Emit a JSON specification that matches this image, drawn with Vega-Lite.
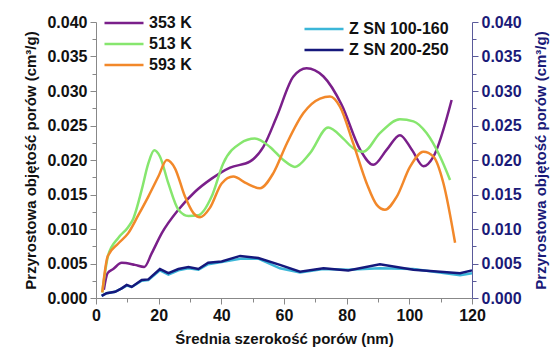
{
  "$schema": "https://vega.github.io/schema/vega-lite/v6.json",
  "width": 376,
  "height": 276,
  "autosize": {"type": "none"},
  "padding": {"left": 96, "top": 22, "right": 80, "bottom": 52},
  "config": {
    "font": "Liberation Sans",
    "view": {"stroke": null},
    "axis": {"grid": false, "labelFont": "Liberation Sans", "titleFont": "Liberation Sans", "labelFontWeight": "bold", "titleFontWeight": "bold", "labelFontSize": 16, "titleFontSize": 15},
    "legend": {"padding": 0, "labelFont": "Liberation Sans", "labelFontWeight": "bold", "labelFontSize": 16, "labelColor": "#111"}
  },
  "datasets": {
    "temps": [
      {"s": "353 K", "x": 2.5, "y": 0.0012}, {"s": "353 K", "x": 3.7, "y": 0.0036}, {"s": "353 K", "x": 5.5, "y": 0.0042},
      {"s": "353 K", "x": 8.2, "y": 0.0051}, {"s": "353 K", "x": 12.4, "y": 0.0048}, {"s": "353 K", "x": 15.4, "y": 0.0045},
      {"s": "353 K", "x": 17.8, "y": 0.0065}, {"s": "353 K", "x": 21, "y": 0.0094}, {"s": "353 K", "x": 26.3, "y": 0.0128},
      {"s": "353 K", "x": 31.6, "y": 0.0154}, {"s": "353 K", "x": 36.9, "y": 0.0173}, {"s": "353 K", "x": 42.8, "y": 0.0189},
      {"s": "353 K", "x": 49.2, "y": 0.0198}, {"s": "353 K", "x": 53.4, "y": 0.0219}, {"s": "353 K", "x": 57.7, "y": 0.0263},
      {"s": "353 K", "x": 63, "y": 0.0321}, {"s": "353 K", "x": 67.2, "y": 0.0333}, {"s": "353 K", "x": 72.6, "y": 0.0321},
      {"s": "353 K", "x": 78.4, "y": 0.028}, {"s": "353 K", "x": 84.3, "y": 0.0215}, {"s": "353 K", "x": 88.5, "y": 0.0193},
      {"s": "353 K", "x": 92.8, "y": 0.0215}, {"s": "353 K", "x": 97, "y": 0.0236}, {"s": "353 K", "x": 100.8, "y": 0.0215},
      {"s": "353 K", "x": 104.5, "y": 0.0191}, {"s": "353 K", "x": 107.7, "y": 0.0205}, {"s": "353 K", "x": 113.5, "y": 0.0287},
      {"s": "513 K", "x": 2, "y": 0.0008}, {"s": "513 K", "x": 3.9, "y": 0.0062}, {"s": "513 K", "x": 7.1, "y": 0.0087},
      {"s": "513 K", "x": 10.3, "y": 0.0103}, {"s": "513 K", "x": 11.9, "y": 0.0115}, {"s": "513 K", "x": 14.6, "y": 0.0157},
      {"s": "513 K", "x": 16.7, "y": 0.0195}, {"s": "513 K", "x": 18.6, "y": 0.0214}, {"s": "513 K", "x": 20.4, "y": 0.0205},
      {"s": "513 K", "x": 23.1, "y": 0.0166}, {"s": "513 K", "x": 26.3, "y": 0.0128}, {"s": "513 K", "x": 29.5, "y": 0.0119},
      {"s": "513 K", "x": 32.7, "y": 0.012}, {"s": "513 K", "x": 36.9, "y": 0.0147}, {"s": "513 K", "x": 40.6, "y": 0.0195},
      {"s": "513 K", "x": 46, "y": 0.0224}, {"s": "513 K", "x": 50.7, "y": 0.0231}, {"s": "513 K", "x": 55.5, "y": 0.0219},
      {"s": "513 K", "x": 59.8, "y": 0.02}, {"s": "513 K", "x": 63.5, "y": 0.019}, {"s": "513 K", "x": 68.3, "y": 0.021},
      {"s": "513 K", "x": 74.1, "y": 0.0247}, {"s": "513 K", "x": 78.9, "y": 0.0231}, {"s": "513 K", "x": 82.1, "y": 0.0217},
      {"s": "513 K", "x": 85.3, "y": 0.0212}, {"s": "513 K", "x": 90.6, "y": 0.0239}, {"s": "513 K", "x": 97, "y": 0.0259},
      {"s": "513 K", "x": 101.3, "y": 0.0256}, {"s": "513 K", "x": 105.5, "y": 0.0239}, {"s": "513 K", "x": 109.8, "y": 0.0205},
      {"s": "513 K", "x": 113, "y": 0.0171},
      {"s": "593 K", "x": 2, "y": 0.0008}, {"s": "593 K", "x": 3.7, "y": 0.006}, {"s": "593 K", "x": 7.1, "y": 0.0079},
      {"s": "593 K", "x": 10.3, "y": 0.0094}, {"s": "593 K", "x": 13.5, "y": 0.012}, {"s": "593 K", "x": 16.7, "y": 0.0147},
      {"s": "593 K", "x": 19.9, "y": 0.0176}, {"s": "593 K", "x": 22.6, "y": 0.02}, {"s": "593 K", "x": 25.2, "y": 0.0188},
      {"s": "593 K", "x": 28.4, "y": 0.0147}, {"s": "593 K", "x": 31.1, "y": 0.0123}, {"s": "593 K", "x": 33.2, "y": 0.0117},
      {"s": "593 K", "x": 36.4, "y": 0.0131}, {"s": "593 K", "x": 40.1, "y": 0.0166}, {"s": "593 K", "x": 43.8, "y": 0.0176},
      {"s": "593 K", "x": 48.1, "y": 0.0166}, {"s": "593 K", "x": 52.3, "y": 0.0159}, {"s": "593 K", "x": 56.6, "y": 0.0181},
      {"s": "593 K", "x": 60.9, "y": 0.0224}, {"s": "593 K", "x": 66.2, "y": 0.0268}, {"s": "593 K", "x": 71.5, "y": 0.0289},
      {"s": "593 K", "x": 74.7, "y": 0.0292}, {"s": "593 K", "x": 77.9, "y": 0.0277}, {"s": "593 K", "x": 82.1, "y": 0.0224},
      {"s": "593 K", "x": 86.4, "y": 0.0166}, {"s": "593 K", "x": 89.6, "y": 0.0135}, {"s": "593 K", "x": 92.2, "y": 0.0128},
      {"s": "593 K", "x": 96, "y": 0.0147}, {"s": "593 K", "x": 100.2, "y": 0.019}, {"s": "593 K", "x": 104.5, "y": 0.0212},
      {"s": "593 K", "x": 107.7, "y": 0.0205}, {"s": "593 K", "x": 110.9, "y": 0.0166}, {"s": "593 K", "x": 114.6, "y": 0.008}
    ],
    "zsn": [
      {"s": "Z SN 100-160", "x": 1.8, "y": 0.0003}, {"s": "Z SN 100-160", "x": 3.4, "y": 0.0007}, {"s": "Z SN 100-160", "x": 6.1, "y": 0.0009},
      {"s": "Z SN 100-160", "x": 8.2, "y": 0.0014}, {"s": "Z SN 100-160", "x": 9.8, "y": 0.0018}, {"s": "Z SN 100-160", "x": 11.4, "y": 0.0016},
      {"s": "Z SN 100-160", "x": 14.6, "y": 0.0025}, {"s": "Z SN 100-160", "x": 16.7, "y": 0.0026}, {"s": "Z SN 100-160", "x": 20.4, "y": 0.004},
      {"s": "Z SN 100-160", "x": 23.1, "y": 0.0034}, {"s": "Z SN 100-160", "x": 26.3, "y": 0.004}, {"s": "Z SN 100-160", "x": 29.5, "y": 0.0043},
      {"s": "Z SN 100-160", "x": 32.7, "y": 0.0041}, {"s": "Z SN 100-160", "x": 35.8, "y": 0.0049}, {"s": "Z SN 100-160", "x": 40.1, "y": 0.0052},
      {"s": "Z SN 100-160", "x": 46, "y": 0.0057}, {"s": "Z SN 100-160", "x": 51.8, "y": 0.0057}, {"s": "Z SN 100-160", "x": 58.7, "y": 0.0043},
      {"s": "Z SN 100-160", "x": 65.1, "y": 0.0037}, {"s": "Z SN 100-160", "x": 72.6, "y": 0.0042}, {"s": "Z SN 100-160", "x": 80.5, "y": 0.0041},
      {"s": "Z SN 100-160", "x": 90.6, "y": 0.0043}, {"s": "Z SN 100-160", "x": 101.3, "y": 0.0042}, {"s": "Z SN 100-160", "x": 116.2, "y": 0.0033},
      {"s": "Z SN 100-160", "x": 120, "y": 0.0036},
      {"s": "Z SN 200-250", "x": 1.8, "y": 0.0003}, {"s": "Z SN 200-250", "x": 3.4, "y": 0.0007}, {"s": "Z SN 200-250", "x": 6.1, "y": 0.0009},
      {"s": "Z SN 200-250", "x": 8.2, "y": 0.0014}, {"s": "Z SN 200-250", "x": 9.8, "y": 0.0019}, {"s": "Z SN 200-250", "x": 11.4, "y": 0.0016},
      {"s": "Z SN 200-250", "x": 14.6, "y": 0.0026}, {"s": "Z SN 200-250", "x": 16.7, "y": 0.0027}, {"s": "Z SN 200-250", "x": 20.4, "y": 0.0042},
      {"s": "Z SN 200-250", "x": 23.1, "y": 0.0036}, {"s": "Z SN 200-250", "x": 26.3, "y": 0.0042}, {"s": "Z SN 200-250", "x": 29.5, "y": 0.0045},
      {"s": "Z SN 200-250", "x": 32.7, "y": 0.0042}, {"s": "Z SN 200-250", "x": 35.8, "y": 0.0051}, {"s": "Z SN 200-250", "x": 40.1, "y": 0.0053},
      {"s": "Z SN 200-250", "x": 46, "y": 0.0061}, {"s": "Z SN 200-250", "x": 51.8, "y": 0.0058}, {"s": "Z SN 200-250", "x": 58.7, "y": 0.0048},
      {"s": "Z SN 200-250", "x": 65.1, "y": 0.0038}, {"s": "Z SN 200-250", "x": 72.6, "y": 0.0043}, {"s": "Z SN 200-250", "x": 80.5, "y": 0.004},
      {"s": "Z SN 200-250", "x": 90.6, "y": 0.0049}, {"s": "Z SN 200-250", "x": 101.3, "y": 0.0041}, {"s": "Z SN 200-250", "x": 116.2, "y": 0.0036},
      {"s": "Z SN 200-250", "x": 120, "y": 0.004}
    ]
  },
  "encoding": {
    "x": {
      "field": "x", "type": "quantitative",
      "scale": {"domain": [0, 120], "nice": false},
      "axis": {
        "title": "Średnia szerokość porów (nm)",
        "values": [0, 10, 20, 30, 40, 50, 60, 70, 80, 90, 100, 110, 120],
        "labelExpr": "datum.value % 20 === 0 ? datum.label : ''",
        "tickSize": {"condition": {"test": "datum.value % 20 === 0", "value": 6}, "value": 4},
        "domainColor": "#888", "tickColor": "#888", "labelColor": "#111", "titleColor": "#111",
        "labelPadding": 3, "titlePadding": 8, "labelFlush": false, "labelOverlap": false
      }
    }
  },
  "layer": [
    {
      "data": {"name": "temps"},
      "mark": {"type": "line", "interpolate": "monotone", "strokeWidth": 2.5},
      "encoding": {
        "y": {
          "field": "y", "type": "quantitative",
          "scale": {"domain": [0, 0.04], "nice": false},
          "axis": {
            "orient": "left",
            "title": "Przyrostowa objętość porów (cm³/g)",
            "values": [0, 0.0025, 0.005, 0.0075, 0.01, 0.0125, 0.015, 0.0175, 0.02, 0.0225, 0.025, 0.0275, 0.03, 0.0325, 0.035, 0.0375, 0.04],
            "format": ".3f",
            "labelExpr": "round(datum.value * 10000) % 50 === 0 ? datum.label : ''",
            "tickSize": {"condition": {"test": "round(datum.value * 10000) % 50 === 0", "value": 6}, "value": 4},
            "domainColor": "#888", "tickColor": "#888", "labelColor": "#111", "titleColor": "#111",
            "labelPadding": 3, "titlePadding": 8, "labelFlush": false, "labelOverlap": false
          }
        },
        "color": {
          "field": "s", "type": "nominal",
          "scale": {"domain": ["353 K", "513 K", "593 K"], "range": ["#7a1f8a", "#86e66e", "#f2882a"]},
          "legend": {
            "title": null, "orient": "none", "legendX": 33, "legendY": -7,
            "symbolType": "M-5,0H1", "symbolSize": 169, "symbolStrokeWidth": 2.5,
            "labelOffset": 4, "rowPadding": 5
          }
        }
      }
    },
    {
      "data": {"name": "zsn"},
      "mark": {"type": "line", "strokeWidth": 2.5},
      "encoding": {
        "y": {
          "field": "y", "type": "quantitative",
          "scale": {"domain": [0, 0.04], "nice": false},
          "axis": {
            "orient": "right",
            "title": "Przyrostowa objętość porów (cm³/g)",
            "titleAngle": 270,
            "titleBaseline": "top",
            "values": [0, 0.0025, 0.005, 0.0075, 0.01, 0.0125, 0.015, 0.0175, 0.02, 0.0225, 0.025, 0.0275, 0.03, 0.0325, 0.035, 0.0375, 0.04],
            "format": ".3f",
            "labelExpr": "round(datum.value * 10000) % 50 === 0 ? datum.label : ''",
            "tickSize": {"condition": {"test": "round(datum.value * 10000) % 50 === 0", "value": 6}, "value": 4},
            "domainColor": "#5a5a9a", "tickColor": "#5a5a9a", "labelColor": "#1a1a78", "titleColor": "#1a1a78",
            "labelPadding": 3, "titlePadding": 12, "labelFlush": false, "labelOverlap": false
          }
        },
        "color": {
          "field": "s", "type": "nominal",
          "scale": {"domain": ["Z SN 100-160", "Z SN 200-250"], "range": ["#3bb6d8", "#15187c"]},
          "legend": {
            "title": null, "orient": "none", "legendX": 233, "legendY": -1,
            "symbolType": "M-5,0H1", "symbolSize": 169, "symbolStrokeWidth": 2.5,
            "labelOffset": 4, "rowPadding": 5
          }
        }
      }
    }
  ],
  "resolve": {"scale": {"y": "independent", "color": "independent"}}
}
